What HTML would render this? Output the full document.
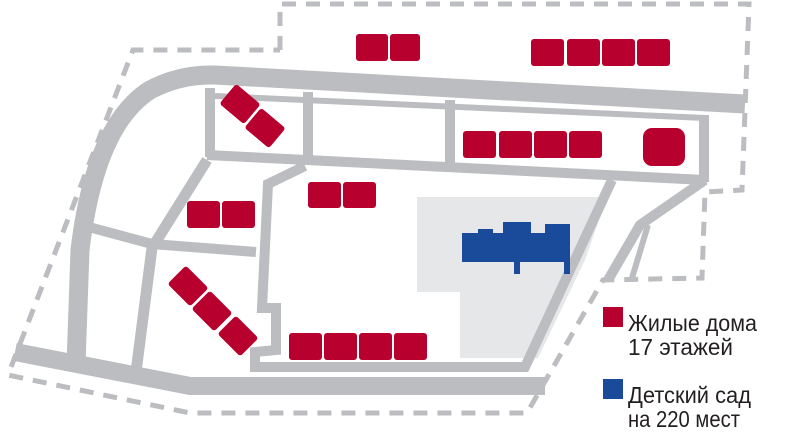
<!DOCTYPE html>
<html><head><meta charset="utf-8"><style>
html,body{margin:0;padding:0;background:#fff;width:800px;height:441px;overflow:hidden}
svg{display:block}
text{font-family:"Liberation Sans Narrow","Liberation Sans",sans-serif;fill:#231f20}
</style></head><body>
<svg width="800" height="441" viewBox="0 0 800 441" xmlns="http://www.w3.org/2000/svg">
<!-- boundary -->
<polyline points="280,50 280,4 749,4 742,190 705,192 702,278 603,280 527,413 190,413 8,375 133,50 280,50" fill="none" stroke="#bcbdc0" stroke-width="5" stroke-dasharray="14,10"/>
<!-- light area -->
<polygon points="417,197 607,197 585,260 538,358 460,358 460,292 417,292" fill="#e6e7e8"/>
<g fill="none" stroke="#bcbdc0" stroke-linejoin="miter">
<path d="M76,365 L80,250 Q95,125 150,90 Q180,74 215,75 L745,104" stroke-width="19"/>
<path d="M15,352 L190,386 L545,386" stroke-width="18"/>
<path d="M136,372 L152,248 L207,160" stroke-width="11"/>
<path d="M85,226 L152,244 L256,252" stroke-width="10"/>
<path d="M207,155 L705,180" stroke-width="10"/>
<path d="M210,88 L210,157" stroke-width="10"/>
<path d="M308,92 L308,158" stroke-width="10"/>
<path d="M450,100 L450,165" stroke-width="10"/>
<path d="M704,115 L704,182" stroke-width="10"/>
<path d="M215,96 L705,118" stroke-width="6"/>
<path d="M305,166 L268,184 L262,308 L276,308 L276,350 L255,352 L255,367 L525,367 L612,180" stroke-width="10"/>
<path d="M705,180 L640,225 L608,280" stroke-width="10"/>
<path d="M648,225 L632,278" stroke-width="6"/>
</g>
<!-- red buildings -->
<g fill="#b8002e">
<rect x="356" y="34" width="32" height="27" rx="3"/><rect x="390" y="34" width="30" height="27" rx="3"/>
<rect x="531" y="39" width="33" height="27" rx="3"/><rect x="567" y="39" width="33" height="27" rx="3"/><rect x="602" y="39" width="33" height="27" rx="3"/><rect x="637" y="39" width="33" height="27" rx="3"/>
<rect x="463" y="131" width="33" height="27" rx="3"/><rect x="499" y="131" width="33" height="27" rx="3"/><rect x="534" y="131" width="33" height="27" rx="3"/><rect x="569" y="131" width="33" height="27" rx="3"/>
<rect x="643" y="128" width="42" height="38" rx="9"/>
<rect x="308" y="182" width="33" height="26" rx="3"/><rect x="343" y="182" width="33" height="26" rx="3"/>
<rect x="187" y="201" width="33" height="27" rx="3"/><rect x="222" y="201" width="33" height="27" rx="3"/>
<rect x="289" y="333" width="33" height="27" rx="3"/><rect x="324" y="333" width="33" height="27" rx="3"/><rect x="359" y="333" width="33" height="27" rx="3"/><rect x="394" y="333" width="33" height="27" rx="3"/>
<rect x="-16" y="-13" width="32" height="26" rx="3" transform="translate(240,104) rotate(40)"/>
<rect x="-16" y="-13" width="32" height="26" rx="3" transform="translate(265,128) rotate(40)"/>
<rect x="-16" y="-13" width="32" height="26" rx="3" transform="translate(188,286) rotate(45)"/>
<rect x="-16" y="-13" width="32" height="26" rx="3" transform="translate(212,311) rotate(45)"/>
<rect x="-16" y="-13" width="32" height="26" rx="3" transform="translate(238,336) rotate(45)"/>
<rect x="603" y="307" width="20" height="20"/>
</g>
<!-- blue -->
<g fill="#1a4a9a">
<rect x="462" y="233" width="108" height="29"/>
<rect x="478" y="229" width="15" height="6"/>
<rect x="503" y="222" width="28" height="12"/>
<rect x="545" y="224" width="25" height="12"/>
<rect x="514" y="258" width="6" height="16"/>
<rect x="564" y="258" width="6" height="16"/>
<rect x="603" y="379" width="20" height="20"/>
</g>
<text x="628" y="331" font-size="23" textLength="129" lengthAdjust="spacingAndGlyphs">Жилые дома</text>
<text x="628" y="355" font-size="23" textLength="105" lengthAdjust="spacingAndGlyphs">17 этажей</text>
<text x="628" y="403" font-size="23" textLength="123" lengthAdjust="spacingAndGlyphs">Детский сад</text>
<text x="628" y="427" font-size="23" textLength="112" lengthAdjust="spacingAndGlyphs">на 220 мест</text>
</svg>
</body></html>
